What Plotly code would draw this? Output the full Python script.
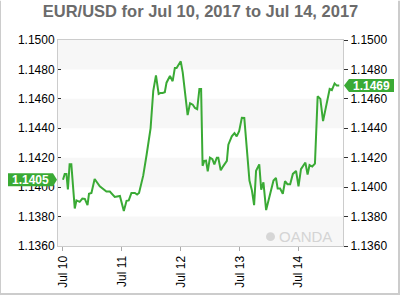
import pandas as pd
import plotly.graph_objects as go

# ---- data ----
open_time = "2017-07-10 00:00"
hours_from_open = [0, 0.7, 1.4, 2.0, 2.7, 3.4, 4.8, 5.5, 6.8, 7.9,
                   8.9, 10.0, 10.6, 11.6, 12.9, 15.0, 17.7, 19.1, 21.1, 23.2,
                   24.8, 25.9, 26.8, 27.9, 29.3, 30.2, 31.0, 32.7, 34.1, 35.7,
                   36.8, 37.9, 39.0, 39.8, 40.6, 41.5, 42.2, 43.6, 44.7, 45.6,
                   46.3, 47.0, 48.0, 48.8, 49.7, 50.8, 51.8, 52.9, 53.8, 54.7,
                   55.6, 56.3, 56.9, 57.6, 58.3, 59.0, 59.9, 60.9, 61.7, 62.7,
                   63.3, 64.3, 65.4, 66.8, 67.4, 68.8, 69.9, 70.8, 71.8, 72.9,
                   73.9, 74.9, 76.0, 77.0, 77.9, 78.7, 80.0, 80.8, 81.7, 82.8,
                   83.7, 84.8, 85.8, 86.8, 87.5, 88.5, 89.6, 90.5, 91.5, 92.6,
                   93.7, 95.0, 96.0, 97.0, 98.8, 99.7, 100.5, 101.6, 102.7, 103.8,
                   104.9, 106.0, 107.3, 108.7, 109.6, 110.7, 111.6, 112.6]
prices = [1.1405, 1.1409, 1.1409, 1.13985, 1.14155, 1.14155, 1.13855, 1.1391, 1.1390, 1.13922,
          1.1392, 1.13878, 1.13955, 1.1396, 1.14055, 1.14005, 1.1397, 1.1397, 1.13933, 1.1394,
          1.13838, 1.13907, 1.1391, 1.1396, 1.1396, 1.1395, 1.1396, 1.14078, 1.14222, 1.1440,
          1.14655, 1.1476, 1.14633, 1.1464, 1.1464, 1.14645, 1.1471, 1.14755, 1.1472, 1.1481,
          1.1481, 1.14827, 1.14855, 1.1478, 1.14645, 1.1449, 1.1457, 1.1456, 1.14538, 1.1453,
          1.14667, 1.14667, 1.14145, 1.14178, 1.1418, 1.14107, 1.1420, 1.1419, 1.14155, 1.1420,
          1.1420, 1.14115, 1.14145, 1.14178, 1.14289, 1.14345, 1.14367, 1.14345, 1.1438, 1.14471,
          1.1447, 1.14267, 1.14045, 1.13978, 1.13878, 1.14111, 1.14155, 1.13982, 1.14033, 1.13844,
          1.1391, 1.1398, 1.14045, 1.14062, 1.1399, 1.1399, 1.13955, 1.1404, 1.1402, 1.1402,
          1.1409, 1.1411, 1.14005, 1.14122, 1.14167, 1.14085, 1.1415, 1.1414, 1.1416, 1.14618,
          1.1460, 1.14449, 1.14556, 1.14667, 1.1466, 1.14705, 1.1469, 1.1469]
tick_dates = ["2017-07-10", "2017-07-11", "2017-07-12", "2017-07-13", "2017-07-14"]
tick_labels = ["Jul 10", "Jul 11", "Jul 12", "Jul 13", "Jul 14"]
y_ticks = [1.1360, 1.1380, 1.1400, 1.1420, 1.1440, 1.1460, 1.1480, 1.1500]
x_range = ["2017-07-09 21:58", "2017-07-14 18:08"]
y_range = [1.1360, 1.1500]
title = "EUR/USD for Jul 10, 2017 to Jul 14, 2017"

GREEN = "#3aaa35"
FONT = "Arial, Liberation Sans, sans-serif"

times = pd.Timestamp(open_time) + pd.to_timedelta(hours_from_open, unit="h")

fig = go.Figure()
fig.add_trace(go.Scatter(x=times, y=prices, mode="lines",
                         line=dict(color=GREEN, width=2), hoverinfo="skip",
                         showlegend=False))
# invisible trace for the right axis
fig.add_trace(go.Scatter(x=[times[0]], y=[prices[0]], yaxis="y2", mode="lines",
                         line=dict(width=0), showlegend=False, hoverinfo="skip"))

shapes = []
# alternating bands
for i in range(len(y_ticks) - 1):
    if i % 2 == 0:
        shapes.append(dict(type="rect", xref="paper", yref="y", x0=0, x1=1,
                           y0=y_ticks[i], y1=y_ticks[i + 1], fillcolor="#f7f7f7",
                           line=dict(width=0), layer="below"))

# outer frame (left, right, bottom)
L, R, T, B = 58, 57, 40, 50
PW, PH = 400 - L - R, 300 - T - B
def px(xp):
    return (xp - L) / PW
def py(yp):
    return (300 - B - yp) / PH
shapes.append(dict(type="line", xref="paper", yref="paper", x0=px(0.5), x1=px(0.5),
                   y0=py(0), y1=py(300), line=dict(color="#cccccc", width=1)))
shapes.append(dict(type="line", xref="paper", yref="paper", x0=px(399), x1=px(399),
                   y0=py(0), y1=py(300), line=dict(color="#cccccc", width=2)))
shapes.append(dict(type="line", xref="paper", yref="paper", x0=px(0), x1=px(400),
                   y0=py(299), y1=py(299), line=dict(color="#cccccc", width=2)))

# price tags
first, last = prices[0], prices[-1]
shapes.append(dict(type="path", xref="paper", xsizemode="pixel", xanchor=0,
                   yref="y", ysizemode="pixel", yanchor=first,
                   path="M -50,-6.5 L -5,-6.5 L -1,0 L -5,6.5 L -50,6.5 Z",
                   fillcolor=GREEN, line=dict(width=0)))
shapes.append(dict(type="path", xref="paper", xsizemode="pixel", xanchor=1,
                   yref="y", ysizemode="pixel", yanchor=last,
                   path="M 1,0 L 6,-6.5 L 51,-6.5 L 51,6.5 L 6,6.5 Z",
                   fillcolor=GREEN, line=dict(width=0)))

# OANDA logo circle
shapes.append(dict(type="circle", xref="paper", yref="paper",
                   x0=px(266), x1=px(275), y0=py(245), y1=py(236),
                   fillcolor="#d6d6d6", line=dict(width=0)))

annotations = [
    dict(x=0, y=first, xref="paper", yref="y", xanchor="center", yanchor="middle",
         xshift=-27.5, text=f"<b>{first:.4f}</b>", showarrow=False,
         font=dict(family=FONT, size=12, color="white")),
    dict(x=1, y=last, xref="paper", yref="y", xanchor="center", yanchor="middle",
         xshift=28.5, text=f"<b>{last:.4f}</b>", showarrow=False,
         font=dict(family=FONT, size=12, color="white")),
    dict(x=px(277), y=py(240.5), xref="paper", yref="paper", xanchor="left",
         yanchor="middle", text="OANDA", showarrow=False,
         font=dict(family=FONT, size=15, color="#d4d4d4")),
]

fig.update_layout(
    width=400, height=300,
    margin=dict(l=L, r=R, t=T, b=B, pad=0),
    paper_bgcolor="white", plot_bgcolor="white",
    title=dict(text=f"<b>{title}</b>", x=0.5, xref="paper", y=1 - 11.5 / 300,
               yanchor="middle", xanchor="center",
               font=dict(family=FONT, size=16.5, color="#6b6b6b")),
    font=dict(family=FONT, size=12, color="black"),
    shapes=shapes, annotations=annotations,
    xaxis=dict(type="date", range=x_range, tickvals=tick_dates, ticktext=tick_labels,
               tickangle=-90, ticks="outside", ticklen=4, tickcolor="#aaaaaa",
               showgrid=False, zeroline=False, showline=True, linecolor="#cccccc",
               linewidth=1, mirror=True, tickfont=dict(size=12, color="black")),
    yaxis=dict(range=y_range, tickvals=y_ticks, tickformat=".4f", ticks="inside",
               ticklen=3, tickcolor="#333333", showgrid=False, zeroline=False,
               showline=True, linecolor="#cccccc", linewidth=1, mirror=True,
               tickfont=dict(size=12, color="black")),
    yaxis2=dict(range=y_range, tickvals=y_ticks, tickformat=".4f", overlaying="y",
                side="right", ticks="outside", ticklen=4, tickcolor="#333333",
                showgrid=False, zeroline=False, showline=False,
                tickfont=dict(size=12, color="black")),
)

fig.write_html("out.html")
